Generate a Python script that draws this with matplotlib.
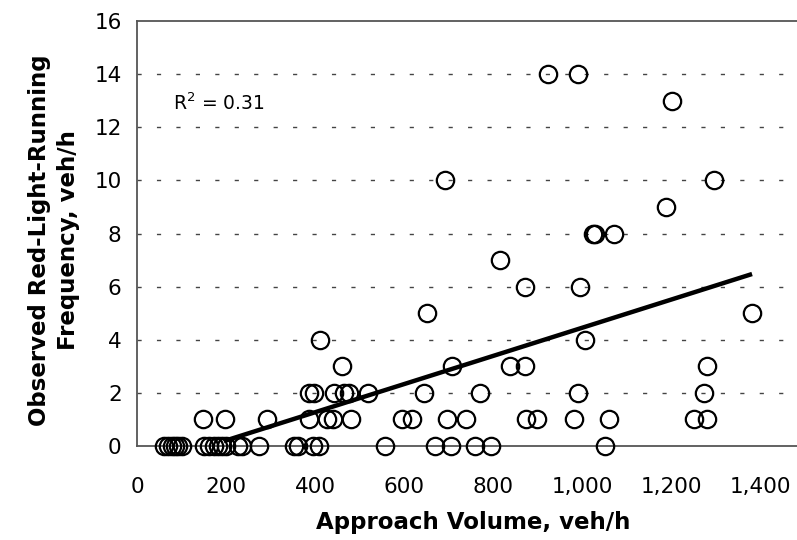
#!/usr/bin/env python3
"""Observed red-light-running frequency vs approach volume (scatter + linear fit)."""

import numpy as np
import matplotlib
matplotlib.use("Agg")
import matplotlib.pyplot as plt

# Approach volume (veh/h) of each site, grouped by observed frequency (veh/h)
vol_0 = [60, 70, 78, 85, 92, 100, 150, 162, 172, 182, 192, 200, 228, 236, 275,
         352, 362, 395, 408, 558, 670, 705, 760, 795, 1052]
vol_1 = [148, 198, 292, 386, 428, 440, 480, 595, 618, 697, 740, 874, 898, 983,
         1060, 1252, 1281]
vol_2 = [387, 398, 443, 466, 477, 520, 644, 770, 992, 1275]
vol_3 = [460, 708, 838, 872, 1280]
vol_4 = [412, 1007]
vol_5 = [651, 1382]
vol_6 = [872, 996]
vol_7 = [816]
vol_8 = [1024, 1030, 1072]
vol_9 = [1189]
vol_10 = [692, 1297]
vol_13 = [1202]
vol_14 = [923, 992]

groups = {0: vol_0, 1: vol_1, 2: vol_2, 3: vol_3, 4: vol_4, 5: vol_5, 6: vol_6,
          7: vol_7, 8: vol_8, 9: vol_9, 10: vol_10, 13: vol_13, 14: vol_14}

# fitted line
fit_slope = 0.0053
fit_intercept = -0.85
fit_x = [195, 1382]
r_squared = "0.31"

x_ticks = [0, 200, 400, 600, 800, 1000, 1200, 1400]
x_tick_labels = ["0", "200", "400", "600", "800", "1,000", "1,200", "1,400"]
y_ticks = [0, 2, 4, 6, 8, 10, 12, 14, 16]

volume = np.concatenate([groups[k] for k in groups])
freq = np.concatenate([[k] * len(groups[k]) for k in groups])

fig = plt.figure(figsize=(7.97, 5.40), dpi=100)
ax = fig.add_axes([137 / 797, 1 - 446 / 540, 1 - 137 / 797, (446 - 21) / 540])

# dashed horizontal grid
for yv in y_ticks[1:-1]:
    ax.axhline(yv, color="#444444", lw=1.0, dashes=(3, 11), zorder=1)

ax.plot(volume, freq, "o", mfc="none", mec="black", ms=12.5, mew=1.6,
        clip_on=False, zorder=4)

fx = np.array(fit_x)
ax.plot(fx, fit_slope * fx + fit_intercept, color="black", lw=3.2,
        solid_capstyle="butt", zorder=5)

ax.text(80, 12.9, "R$^2$ = " + r_squared, fontsize=13.5, va="center", ha="left")

ax.set_xlim(0, 1483)
ax.set_ylim(0, 16)
ax.set_xticks(x_ticks)
ax.set_xticklabels(x_tick_labels)
ax.set_yticks(y_ticks)
ax.tick_params(axis="both", length=0, labelsize=15.5)
ax.tick_params(axis="x", pad=22)
ax.tick_params(axis="y", pad=11)

for side in ["left", "bottom", "top"]:
    ax.spines[side].set_color("#555555")
    ax.spines[side].set_linewidth(1.3)
ax.spines["right"].set_visible(False)

fig.text(473 / 797, 1 - 523 / 540, "Approach Volume, veh/h", fontsize=16.5,
         fontweight="bold", ha="center", va="center")
fig.text(54 / 797, 1 - 240 / 540, "Observed Red-Light-Running\nFrequency, veh/h",
         fontsize=16.5, fontweight="bold", ha="center", va="center",
         rotation=90, multialignment="center", linespacing=1.35)

fig.savefig("out.png", dpi=100)
